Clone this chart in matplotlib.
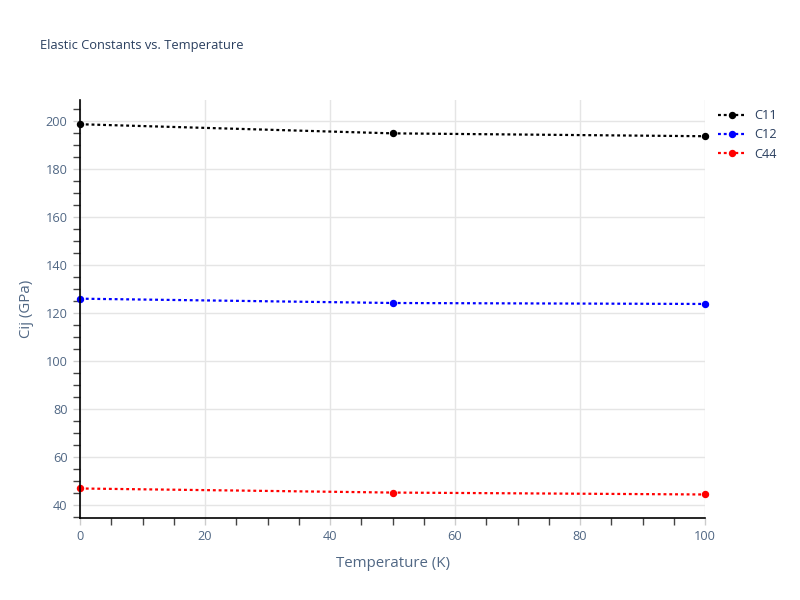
import matplotlib
matplotlib.use('Agg')
import matplotlib.pyplot as plt
from matplotlib.ticker import MultipleLocator

plt.rcParams['font.family'] = ['Open Sans', 'DejaVu Sans']

# data
temps = [0, 50, 100]
c11 = [198.7, 194.9, 193.7]
c12 = [126.0, 124.2, 123.8]
c44 = [46.9, 45.2, 44.4]
names = ['C11', 'C12', 'C44']
colors = ['black', 'blue', 'red']

fig = plt.figure(figsize=(8, 6), dpi=100)
ax = fig.add_axes([80/800, 1-518/600, 625/800, 418/600])

for vals, nm, col in zip([c11, c12, c44], names, colors):
    ax.plot(temps, vals, linestyle=(0, (1.3, 1.3)), lw=1.6, color=col,
            marker='o', markersize=4.3, label=nm, clip_on=False)

ax.set_xlim(0, 100)
ax.set_ylim(34.6, 208.8)
ax.xaxis.set_major_locator(MultipleLocator(20))
ax.xaxis.set_minor_locator(MultipleLocator(5))
ax.yaxis.set_major_locator(MultipleLocator(20))
ax.yaxis.set_minor_locator(MultipleLocator(5))
ax.grid(True, which='major', color='#e5e5e5', lw=1)
ax.set_axisbelow(True)

for s in ['top', 'right']:
    ax.spines[s].set_visible(False)
for s in ['left', 'bottom']:
    ax.spines[s].set_color('black')
    ax.spines[s].set_linewidth(1.2)

txtc = '#506784'
ax.tick_params(which='major', length=5, width=1, color='#cccccc', labelcolor=txtc, labelsize=9.2, pad=4)
ax.tick_params(which='minor', length=5, width=1, color='#444444')

ax.set_xlabel('Temperature (K)', color=txtc, fontsize=10.8, labelpad=9)
ax.set_ylabel('Cij (GPa)', color=txtc, fontsize=10.8, labelpad=8)

fig.text(40/800, 1-45/600, 'Elastic Constants vs. Temperature', color='#2a3f5f',
         fontsize=9.3, va='center', ha='left')

leg = ax.legend(loc='upper left', bbox_to_anchor=(713/800, 1-104/600),
                bbox_transform=fig.transFigure, frameon=False, fontsize=9.2,
                labelcolor='#2a3f5f', handlelength=2.2, handletextpad=0.6,
                labelspacing=0.5, borderaxespad=0)

fig.savefig('out.png', dpi=100)
